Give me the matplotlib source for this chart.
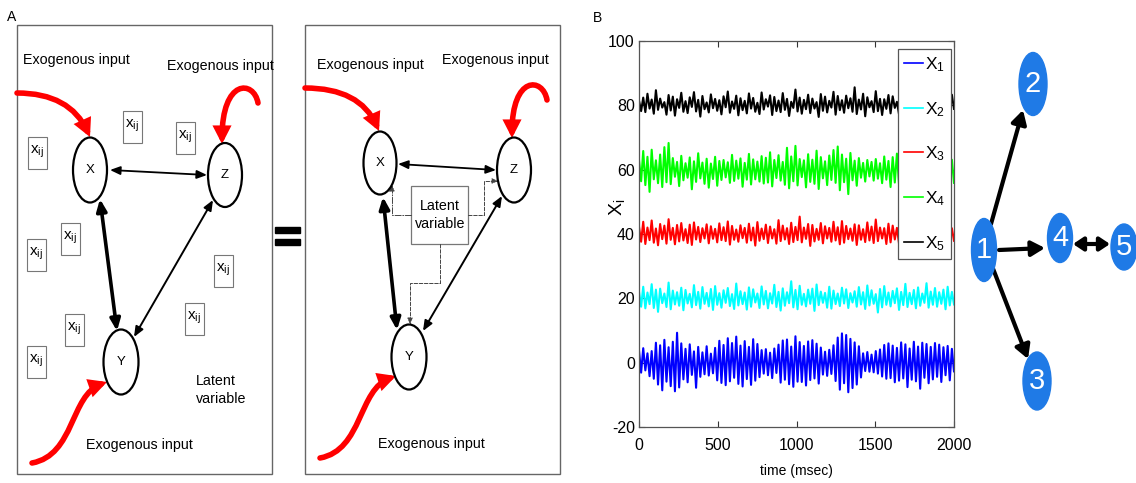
import numpy as np
import matplotlib.pyplot as plt
from matplotlib.patches import Ellipse, Rectangle, FancyArrowPatch
from matplotlib.path import Path

plt.rcParams['font.family'] = ['Liberation Sans', 'DejaVu Sans']
plt.rcParams['mathtext.fontset'] = 'custom'
plt.rcParams['mathtext.rm'] = 'Liberation Sans'
plt.rcParams['mathtext.it'] = 'Liberation Sans:italic'
plt.rcParams['axes.unicode_minus'] = False

# ---- panel B: five signals, sampled over 2000 msec
time_ms = np.linspace(0, 2000, 150)

x1 = [3.8, -3.1, 4.5, -2.4, 2.9, -4.2, 3.6, -5.0, 6.2, -6.8, 5.4, -8.6, 7.1, -5.9, 4.8, -7.3, 6.5, -8.9, 9.3, -7.7,
      6.0, -5.2, 4.3, -6.1, 5.7, -3.8, 3.5, -7.8, 4.9, -4.4, 3.2, -3.6, 5.1, -4.0, 2.8, -3.3, 4.6, -5.5, 6.8, -6.3,
      5.5, -7.0, 7.6, -5.8, 6.1, -4.7, 8.1, -6.6, 5.3, -7.4, 6.7, -5.1, 4.9, -6.9, 7.3, -5.6, 5.8, -4.5, 3.9, -3.4,
      4.2, -3.9, 3.1, -4.8, 4.4, -3.2, 5.6, -6.2, 6.9, -5.3, 7.2, -6.7, 5.0, -7.5, 8.2, -5.9, 6.4, -6.0, 5.2, -7.1,
      6.6, -5.4, 7.0, -4.9, 5.9, -6.5, 4.7, -3.7, 3.4, -4.1, 4.0, -3.5, 5.4, -5.7, 7.8, -8.4, 9.1, -6.4, 8.6, -9.2,
      7.4, -7.9, 6.3, -6.8, 5.1, -4.6, 2.9, -2.6, 3.3, -2.8, 2.5, -3.0, 3.6, -3.4, 4.1, -4.3, 5.5, -5.0, 6.0, -4.8,
      5.3, -6.1, 4.6, -5.6, 6.3, -4.9, 5.7, -7.6, 4.4, -5.3, 6.5, -5.8, 5.0, -8.1, 6.2, -4.7, 5.8, -6.4, 4.9, -5.2,
      6.1, -4.4, 5.6, -6.0, 4.8, -3.9, 5.2, -5.5, 4.3, -2.7]
x2 = [22.1, 17.4, 23.6, 16.9, 21.8, 18.2, 24.4, 17.0, 22.7, 15.8, 23.0, 18.5, 21.5, 17.3, 24.9, 16.6, 22.4, 18.1, 21.9, 17.7,
      23.3, 16.3, 22.6, 18.4, 21.4, 17.2, 24.1, 17.9, 22.0, 16.8, 23.5, 18.3, 21.7, 17.5, 22.9, 16.4, 23.8, 18.0, 21.6, 17.1,
      22.5, 18.6, 23.2, 17.6, 21.3, 16.7, 24.6, 17.8, 22.2, 18.2, 21.8, 16.5, 23.4, 17.4, 22.8, 18.7, 21.5, 17.0, 23.7, 18.1,
      22.3, 16.9, 21.6, 18.4, 24.2, 17.3, 22.0, 16.2, 23.1, 17.7, 21.9, 18.5, 25.3, 17.2, 22.6, 16.6, 23.9, 18.0, 21.4, 17.5,
      22.7, 18.3, 23.0, 16.1, 24.3, 17.9, 22.1, 18.6, 21.7, 17.1, 23.6, 16.8, 22.4, 18.2, 21.5, 17.6, 23.3, 18.4, 22.8, 17.0,
      21.6, 18.7, 22.2, 17.4, 23.5, 18.1, 21.9, 16.7, 24.0, 17.8, 22.5, 18.3, 21.3, 15.6, 22.9, 17.2, 23.8, 18.0, 21.8, 17.5,
      22.3, 18.5, 23.1, 16.4, 22.0, 17.9, 24.5, 17.3, 21.7, 18.2, 22.6, 16.9, 23.4, 17.7, 21.5, 18.6, 24.7, 17.1, 22.1, 18.0,
      23.2, 17.4, 21.9, 18.3, 22.7, 16.6, 23.6, 17.8, 22.0, 18.1]
x3 = [42.3, 37.6, 43.8, 36.9, 42.0, 38.1, 44.2, 37.3, 41.7, 36.5, 43.1, 38.4, 42.6, 37.0, 44.6, 38.2, 41.9, 36.8, 42.8, 37.7,
      43.4, 38.0, 41.5, 37.2, 42.9, 36.6, 43.6, 38.3, 42.2, 37.5, 41.8, 38.6, 43.0, 37.1, 42.4, 38.5, 41.6, 37.4, 43.3, 38.1,
      42.1, 37.8, 43.9, 36.7, 42.5, 38.2, 41.4, 37.6, 42.7, 38.7, 41.9, 37.3, 43.2, 38.0, 42.0, 36.4, 43.7, 37.9, 41.7, 38.4,
      42.9, 37.2, 42.3, 38.6, 41.5, 37.0, 44.3, 37.8, 42.6, 38.3, 41.8, 36.9, 43.5, 37.5, 42.2, 38.1, 45.4, 37.4, 42.0, 38.5,
      43.1, 36.3, 42.8, 37.7, 41.6, 38.2, 43.4, 37.1, 42.4, 38.6, 41.9, 37.6, 43.8, 38.0, 42.1, 36.8, 44.0, 37.3, 42.5, 38.4,
      41.7, 37.9, 43.0, 36.6, 42.7, 38.2, 41.5, 37.5, 43.6, 38.0, 42.3, 37.2, 44.5, 37.8, 42.0, 38.6, 41.8, 36.9, 43.2, 37.4,
      42.6, 38.3, 41.9, 37.0, 43.3, 37.7, 42.2, 38.5, 41.6, 36.5, 43.9, 37.6, 42.4, 38.1, 41.7, 37.3, 43.5, 38.4, 42.0, 37.1,
      42.8, 38.0, 41.6, 37.5, 43.1, 36.8, 42.5, 38.2, 41.8, 37.9]
x4 = [63.1, 56.4, 65.8, 55.2, 64.0, 53.1, 66.2, 57.0, 62.9, 55.8, 64.7, 54.6, 67.0, 56.1, 68.3, 55.5, 63.6, 57.8, 62.4, 54.9,
      64.3, 56.7, 62.0, 57.5, 63.8, 53.9, 62.6, 56.2, 65.1, 57.3, 62.2, 55.6, 63.4, 54.4, 61.9, 57.1, 64.0, 55.0, 62.7, 56.8,
      63.0, 57.6, 62.3, 55.9, 64.6, 56.5, 62.8, 57.2, 63.5, 54.7, 62.1, 56.9, 64.9, 55.4, 63.2, 57.0, 62.5, 56.3, 64.2, 55.7,
      63.7, 56.0, 65.4, 54.8, 63.0, 57.4, 64.5, 56.6, 62.4, 55.3, 66.8, 54.2, 64.1, 56.4, 67.4, 55.1, 63.3, 57.7, 62.9, 54.5,
      64.8, 56.2, 63.1, 55.6, 65.9, 54.0, 63.9, 57.3, 62.6, 55.2, 64.4, 56.8, 66.1, 55.9, 67.2, 53.6, 64.7, 56.1, 63.4, 52.4,
      65.2, 56.7, 62.8, 55.0, 63.6, 57.5, 62.1, 56.3, 63.0, 57.9, 62.4, 56.6, 63.3, 57.2, 62.0, 55.8, 64.1, 56.9, 62.7, 54.6,
      63.9, 56.0, 65.0, 55.4, 62.5, 57.1, 64.3, 54.9, 63.2, 56.5, 65.6, 55.3, 62.9, 57.6, 64.0, 55.7, 63.5, 56.2, 62.2, 57.0,
      63.8, 55.5, 62.6, 56.8, 64.2, 57.4, 62.3, 56.1, 63.1, 55.9]
x5 = [81.5, 78.2, 82.4, 77.9, 83.6, 79.0, 81.8, 77.4, 84.7, 78.6, 82.1, 79.3, 81.0, 77.1, 83.2, 78.4, 82.7, 76.8, 81.9, 79.2,
      83.9, 78.0, 81.3, 77.6, 82.5, 79.5, 84.1, 78.1, 81.7, 76.5, 82.9, 78.8, 80.9, 77.8, 83.4, 79.1, 82.0, 78.3, 81.6, 77.2,
      82.8, 79.4, 84.3, 77.7, 81.2, 78.9, 83.0, 76.9, 82.2, 78.5, 81.4, 77.5, 83.7, 79.0, 82.3, 78.0, 80.8, 77.3, 84.0, 78.7,
      81.9, 79.6, 83.1, 77.0, 82.6, 78.2, 81.5, 77.9, 83.8, 78.6, 82.0, 76.7, 81.1, 79.2, 84.9, 78.1, 82.4, 77.4, 81.7, 78.8,
      83.3, 77.6, 82.1, 79.0, 81.0, 76.4, 83.5, 78.3, 82.7, 77.8, 81.4, 79.3, 84.2, 77.1, 82.9, 78.5, 81.6, 77.7, 83.0, 79.1,
      82.2, 78.0, 85.6, 77.3, 81.8, 78.7, 83.6, 76.6, 82.5, 79.4, 81.3, 77.9, 84.4, 78.2, 82.0, 77.0, 81.9, 78.9, 83.2, 77.5,
      82.8, 79.2, 81.1, 77.2, 83.9, 78.4, 82.3, 76.9, 81.5, 79.0, 84.6, 78.1, 82.6, 77.6, 81.2, 78.6, 83.4, 77.3, 82.1, 79.1,
      81.7, 78.0, 83.1, 77.8, 82.4, 78.5, 81.0, 77.4, 83.3, 78.9]

series = [x1, x2, x3, x4, x5]
series_labels = [r'$\mathregular{X_1}$', r'$\mathregular{X_2}$', r'$\mathregular{X_3}$',
                 r'$\mathregular{X_4}$', r'$\mathregular{X_5}$']
series_colors = ['#0000ff', '#00ffff', '#ff0000', '#00ff00', '#000000']

# ---- panel A text
exo = 'Exogenous input'
xij = r'$\mathregular{x_{ij}}$'
net_labels = ['1', '2', '3', '4', '5']

W, H = 1136, 483
fig = plt.figure(figsize=(W / 100, H / 100), dpi=100)

# overlay in pixel coordinates for the schematic drawings
ov = fig.add_axes([0, 0, 1, 1])
ov.set_xlim(0, W)
ov.set_ylim(H, 0)
ov.axis('off')


def arrow(p0=None, p1=None, path=None, style='<|-|>', lw=1.2, hl=6, hw=2.5,
          color='black', ls='-', z=3):
    st = f'{style},head_length={hl},head_width={hw}'
    if path is not None:
        a = FancyArrowPatch(path=path, arrowstyle=st, lw=lw, color=color,
                            ls=ls, zorder=z, joinstyle='miter')
    else:
        a = FancyArrowPatch(p0, p1, arrowstyle=st, lw=lw, color=color, ls=ls,
                            shrinkA=0, shrinkB=0, zorder=z)
    ov.add_patch(a)


def red(pts):
    codes = [Path.MOVETO] + [Path.CURVE4 if len(pts) == 4 else Path.CURVE3] * (len(pts) - 1)
    arrow(path=Path(pts, codes), style='-|>', lw=4.0, hl=7, hw=3.6, color='#ff0000', z=4)


def node(c, w, h, label):
    ov.add_patch(Ellipse(c, w, h, facecolor='white', edgecolor='black', lw=1.6, zorder=5))
    ov.text(c[0], c[1], label, ha='center', va='center', fontsize=9.5, zorder=6)


# panel labels and frames
ov.text(12, 17, 'A', ha='center', va='center', fontsize=10)
ov.text(598, 18, 'B', ha='center', va='center', fontsize=10)
ov.add_patch(Rectangle((17, 25), 255, 449, fill=False, edgecolor='#666666', lw=1))
ov.add_patch(Rectangle((305, 25), 255, 449, fill=False, edgecolor='#666666', lw=1))
ov.add_patch(Rectangle((275, 227), 25, 6, color='black'))
ov.add_patch(Rectangle((275, 239), 25, 6, color='black'))

# ---- left box: observed network with many latent inputs
ov.text(23, 60, exo, va='center', fontsize=10.3)
ov.text(167, 66, exo, va='center', fontsize=10.3)
ov.text(86, 445, exo, va='center', fontsize=10.3)
ov.text(196, 390, 'Latent\nvariable', va='center', fontsize=10.3, linespacing=1.3)
for cx, cy in [(132, 127), (185, 138), (37, 153), (70, 239), (36, 255),
               (223, 271), (194, 319), (74, 330), (36, 362)]:
    ov.add_patch(Rectangle((cx - 9.5, cy - 16), 19, 32, fill=False, edgecolor='#777777', lw=0.8))
    ov.text(cx, cy - 1, xij, ha='center', va='center', fontsize=11)

red([(17, 93), (70, 93), (90, 137)])
red([(258, 103), (254, 80), (222, 78), (222, 144)])
red([(32, 463), (75, 455), (70, 395), (107, 382)])
arrow((110, 170), (207, 175), lw=1.3)
arrow((100, 199), (117, 331), lw=2.6, hl=7, hw=3)
arrow((213, 200), (134, 337), lw=1.4)
node((90, 170), 34, 65, 'X')
node((225, 175), 34, 64, 'Z')
node((121, 362), 35, 65, 'Y')

# ---- right box: same network with one latent variable
ov.text(317, 65, exo, va='center', fontsize=10.3)
ov.text(442, 60, exo, va='center', fontsize=10.3)
ov.text(378, 444, exo, va='center', fontsize=10.3)
ov.add_patch(Rectangle((411, 186), 57, 58, fill=False, edgecolor='#777777', lw=0.9))
ov.text(440, 215, 'Latent\nvariable', ha='center', va='center', fontsize=10.3, linespacing=1.3)

dash = dict(style='-|>', lw=0.7, hl=3.5, hw=1.6, color='#444444', z=2)
arrow(path=Path([(411, 215), (392, 215), (392, 185)]), ls='-.', **dash)
arrow(path=Path([(468, 215), (484, 215), (484, 181), (498, 181)]), ls='--', **dash)
arrow(path=Path([(440, 244), (440, 283), (410, 283), (410, 324)]), ls='--', **dash)

red([(305, 88), (360, 88), (379, 131)])
red([(547, 100), (543, 77), (512, 75), (512, 138)])
red([(320, 458), (363, 450), (358, 389), (396, 376)])
arrow((398, 164), (496, 170), lw=1.3)
arrow((383, 197), (397, 330), lw=2.6, hl=7, hw=3)
arrow((502, 196), (423, 331), lw=1.4)
node((380, 163), 33, 63, 'X')
node((514, 170), 34, 65, 'Z')
node((409, 357), 35, 65, 'Y')

# ---- panel B time series
ax = fig.add_axes([639 / W, 1 - 427 / H, 315 / W, 386 / H])
for vals, col, lab in zip(series, series_colors, series_labels):
    ax.plot(time_ms, vals, color=col, lw=1.5, label=lab)
ax.set_xlim(0, 2000)
ax.set_ylim(-20, 100)
ax.set_xticks([0, 500, 1000, 1500, 2000])
ax.set_yticks([-20, 0, 20, 40, 60, 80, 100])
ax.tick_params(direction='in', top=True, right=True, length=4, width=0.8,
               labelsize=11.5, color='#333333')
ax.tick_params(axis='x', pad=8)
ax.tick_params(axis='y', pad=3)
for s in ax.spines.values():
    s.set_color('#555555')
    s.set_linewidth(0.9)
ax.set_xlabel('time (msec)', fontsize=10)
ax.xaxis.set_label_coords(0.5, -0.095)
ax.set_ylabel(r'$\mathregular{X_i}$', fontsize=14)
ax.yaxis.set_label_coords(-0.037, 0.57)
leg = ax.legend(loc='upper right', bbox_to_anchor=(951 / W, 1 - 49 / H),
                bbox_transform=fig.transFigure, borderaxespad=0, fancybox=False,
                framealpha=1, edgecolor='#555555', handlelength=1.1,
                handletextpad=0.1, borderpad=0.35, labelspacing=1.5,
                prop={'size': 12.5})
leg.get_frame().set_linewidth(0.9)
for h in leg.get_lines():
    h.set_linewidth(1.2)

# ---- network of five nodes
blue = '#1f7ae6'
net_pos = {'1': (984, 250), '2': (1033, 84), '3': (1037, 381), '4': (1060, 238), '5': (1124, 247)}
net_size = {'1': (25, 63), '2': (28, 63), '3': (28, 58), '4': (25, 49), '5': (26, 46)}
big = dict(lw=3, hl=8, hw=4.5)
arrow((991, 224), (1023, 110), style='-|>', **big)
arrow((999, 250), (1045, 248), style='-|>', **big)
arrow((992, 266), (1028, 359), style='-|>', **big)
arrow((1073, 244), (1110, 244), style='<|-|>', lw=3, hl=6, hw=4)
for k in net_labels:
    ov.add_patch(Ellipse(net_pos[k], *net_size[k], color=blue, zorder=5))
    ov.text(*net_pos[k], k, color='white', ha='center', va='center', fontsize=21, zorder=6)

fig.savefig('out.png', dpi=100)
